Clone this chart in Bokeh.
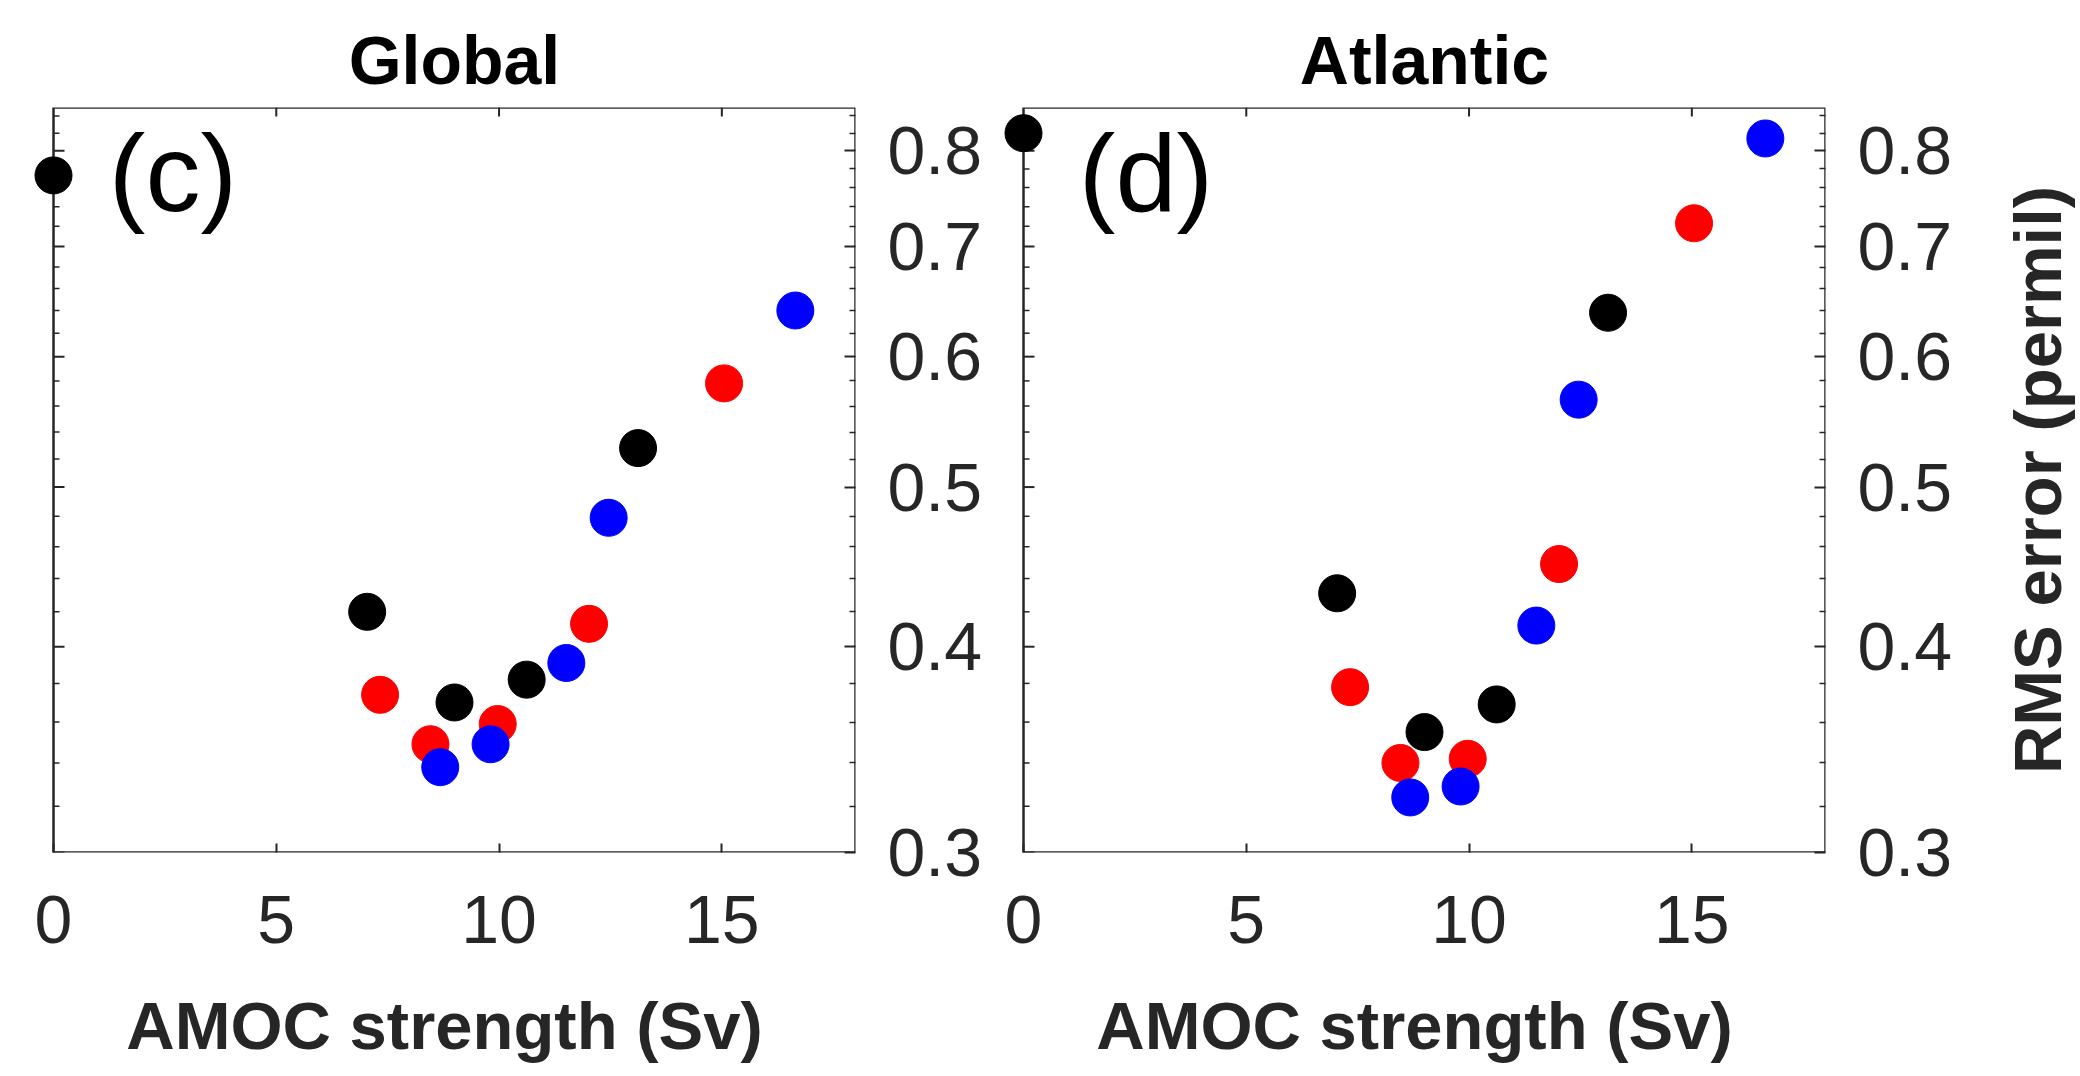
import math
from bokeh.plotting import figure
from bokeh.layouts import row
from bokeh.models import Range1d, FixedTicker, PrintfTickFormatter, BoxAnnotation, Label, Title
from bokeh.embed import file_html
from bokeh.resources import INLINE

# ---------------- data ----------------
black_amoc = [0.0, 7.04, 9.00, 10.62, 13.12]
red_amoc = [7.33, 8.46, 9.97, 12.02, 15.05]
blue_amoc = [8.68, 9.81, 11.51, 12.46, 16.65]

black_rms_global = [0.773, 0.420, 0.370, 0.382, 0.528]
red_rms_global = [0.374, 0.349, 0.359, 0.413, 0.578]
blue_rms_global = [0.338, 0.349, 0.391, 0.479, 0.640]

black_rms_atlantic = [0.820, 0.431, 0.355, 0.369, 0.638]
red_rms_atlantic = [0.378, 0.340, 0.342, 0.449, 0.723]
blue_rms_atlantic = [0.324, 0.329, 0.412, 0.565, 0.814]

panel_titles = ["Global", "Atlantic"]
panel_letters = ["(c)", "(d)"]
x_ticks = [0, 5, 10, 15]
y_ticks = [0.3, 0.4, 0.5, 0.6, 0.7, 0.8]
y_minor_ticks = [0.32, 0.34, 0.36, 0.38, 0.42, 0.44, 0.46, 0.48,
                 0.52, 0.54, 0.56, 0.58, 0.62, 0.64, 0.66, 0.68,
                 0.72, 0.74, 0.76, 0.78, 0.82, 0.84]
x_label = "AMOC strength (Sv)"
y_label = "RMS error (permil)"
x_limits = (0, 18)
y_limits = (0.3, 0.85)

AX = "#262626"
FONT = "Liberation Sans"
FRAME_W, FRAME_H = 822, 745
TOP, BOTTOM = 107, 224
PAD_PX = 20  # room left of x=0 so the markers there are not cut
BOX_W = FRAME_W - PAD_PX
X_PER_PX = (x_limits[1] - x_limits[0]) / BOX_W
TITLE_PX = 68
# approximate advance widths (em) of the bold titles, used to centre them on the box
TITLE_EM = {"Global": 3.112, "Atlantic": 3.667}


def make_panel(title, letter, series, min_left, min_right):
    x_start = x_limits[0] - PAD_PX * X_PER_PX
    p = figure(frame_width=FRAME_W, frame_height=FRAME_H,
               x_range=Range1d(x_start, x_limits[1]),
               y_range=Range1d(*y_limits),
               y_axis_type="log", y_axis_location="right",
               toolbar_location=None, output_backend="svg",
               min_border_left=min_left, min_border_right=min_right,
               min_border_top=TOP, min_border_bottom=BOTTOM,
               title=title)
    p.outline_line_color = None
    p.grid.visible = False
    p.background_fill_color = "white"
    p.border_fill_color = "white"

    p.title.align = "left"
    p.title.offset = PAD_PX + BOX_W / 2 - TITLE_EM[title] * TITLE_PX / 2
    p.title.text_font = FONT
    p.title.text_font_size = f"{TITLE_PX}px"
    p.title.text_font_style = "bold"
    p.title.text_color = "black"
    p.title.standoff = 20

    # box
    p.add_layout(BoxAnnotation(left=x_limits[0], right=x_limits[1],
                               bottom=y_limits[0], top=y_limits[1],
                               fill_alpha=0, line_color=AX, line_alpha=1.0,
                               line_width=2.5, level="underlay"))

    # x axis (bottom)
    xa = p.xaxis[0]
    xa.ticker = FixedTicker(ticks=x_ticks)
    xa.axis_line_color = None
    xa.major_tick_in = 9
    xa.major_tick_out = 0
    xa.major_tick_line_color = AX
    xa.major_tick_line_width = 2
    xa.minor_tick_line_color = None
    xa.major_label_standoff = 43
    xa.major_label_text_font = FONT
    xa.major_label_text_font_size = "68px"
    xa.major_label_text_color = AX
    xa.axis_label = x_label
    xa.axis_label_standoff = 42
    xa.axis_label_text_font = FONT
    xa.axis_label_text_font_size = "67px"
    xa.axis_label_text_font_style = "bold"
    xa.axis_label_text_color = AX

    # y axis (right)
    ya = p.yaxis[0]
    ya.ticker = FixedTicker(ticks=y_ticks, minor_ticks=y_minor_ticks)
    ya.formatter = PrintfTickFormatter(format="%.1f")
    ya.axis_line_color = None
    ya.major_tick_in = 11
    ya.major_tick_out = 0
    ya.minor_tick_in = 6
    ya.minor_tick_out = 0
    ya.major_tick_line_color = AX
    ya.major_tick_line_width = 2
    ya.minor_tick_line_color = AX
    ya.minor_tick_line_width = 1.5
    ya.major_label_standoff = 32
    ya.major_label_text_font = FONT
    ya.major_label_text_font_size = "68px"
    ya.major_label_text_color = AX

    # inward ticks on the left and top edges of the box
    p.ray(x=[x_limits[0]] * len(y_ticks), y=y_ticks, length=11, angle=0,
          length_units="screen", line_color=AX, line_width=2)
    p.ray(x=[x_limits[0]] * len(y_minor_ticks), y=y_minor_ticks, length=6, angle=0,
          length_units="screen", line_color=AX, line_width=1.5)
    p.ray(x=x_ticks[1:], y=[y_limits[1]] * (len(x_ticks) - 1), length=9,
          angle=-math.pi / 2, length_units="screen", line_color=AX, line_width=2)

    for xs, ys, col in series:
        p.scatter(xs, ys, size=37, fill_color=col, line_color=col)

    p.add_layout(Label(x=1.24, y=0.776, text=letter, text_font=FONT,
                       text_font_size="110px", text_color="black",
                       text_baseline="alphabetic", text_align="left"))
    return p


p1 = make_panel(panel_titles[0], panel_letters[0],
                [(black_amoc, black_rms_global, "#000000"),
                 (red_amoc, red_rms_global, "#ff0000"),
                 (blue_amoc, blue_rms_global, "#0000ff")],
                min_left=33, min_right=135)
p2 = make_panel(panel_titles[1], panel_letters[1],
                [(black_amoc, black_rms_atlantic, "#000000"),
                 (red_amoc, red_rms_atlantic, "#ff0000"),
                 (blue_amoc, blue_rms_atlantic, "#0000ff")],
                min_left=13, min_right=135)

# narrow strip holding the shared vertical axis title (reads bottom-to-top)
p3 = figure(frame_width=5, frame_height=FRAME_H,
            min_border_left=115, min_border_right=0,
            min_border_top=TOP, min_border_bottom=BOTTOM,
            x_axis_location=None, y_axis_location=None,
            toolbar_location=None, output_backend="svg")
p3.outline_line_color = None
p3.background_fill_color = "white"
p3.border_fill_color = "white"
p3.add_layout(Title(text=y_label, align="center", standoff=2,
                    text_font=FONT, text_font_size="67px",
                    text_font_style="bold", text_color=AX), "left")

layout = row(p1, p2, p3)
open("out.html", "w").write(file_html(layout, INLINE))
